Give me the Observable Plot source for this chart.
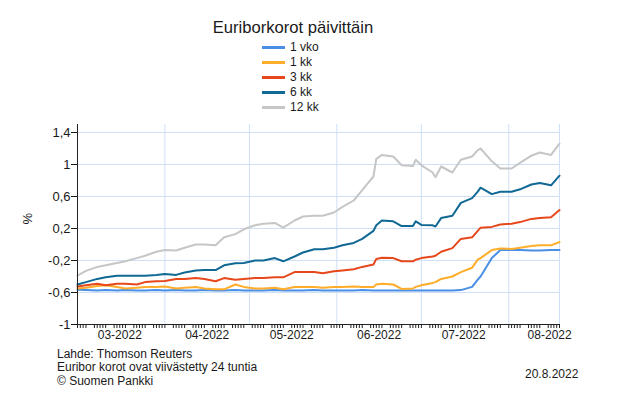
<!DOCTYPE html>
<html>
<head>
<meta charset="utf-8">
<script src="https://cdn.jsdelivr.net/npm/d3@7"></script>
<script src="https://cdn.jsdelivr.net/npm/@observablehq/plot@0.6"></script>
<style>
  body { margin: 0; background: #fff; font-family: "Liberation Sans", Arial, sans-serif; color: #1a1a1a; }
  #wrap { position: relative; width: 639px; height: 406px; overflow: hidden; }
  #chart { position: absolute; left: 0; top: 0; }
  .title { position: absolute; left: 0; width: 586px; top: 18px; text-align: center; font-size: 16.6px; }
  .leg { position: absolute; left: 262px; font-size: 12px; line-height: 14px; }
  .leg span.sw { position: absolute; left: 0; top: 6px; width: 23px; height: 3px; }
  .leg span.tx { position: absolute; left: 28px; top: 0; white-space: nowrap; }
  .foot { position: absolute; left: 57px; top: 348px; font-size: 12px; line-height: 13.3px; }
  .date { position: absolute; left: 525px; top: 367px; font-size: 12px; }
</style>
</head>
<body>
<div id="wrap"></div>
<script>
const seriesNames = ["1 vko", "1 kk", "3 kk", "6 kk", "12 kk"];
const seriesColors = ["#4a8fe6", "#ffad2a", "#e6481c", "#106894", "#c6c6c6"];

const dates = ["2022-03-01","2022-03-04","2022-03-08","2022-03-11","2022-03-15","2022-03-18","2022-03-22","2022-03-25","2022-03-29","2022-04-01",
  "2022-04-05","2022-04-08","2022-04-12","2022-04-15","2022-04-19","2022-04-22","2022-04-26","2022-04-29","2022-05-03","2022-05-06",
  "2022-05-10","2022-05-13","2022-05-17","2022-05-20","2022-05-24","2022-05-27","2022-05-31","2022-06-03","2022-06-07","2022-06-10",
  "2022-06-14","2022-06-15","2022-06-17","2022-06-21","2022-06-24","2022-06-28","2022-06-29","2022-07-01","2022-07-05","2022-07-06",
  "2022-07-08","2022-07-12","2022-07-15","2022-07-19","2022-07-21","2022-07-22","2022-07-26","2022-07-29","2022-08-02","2022-08-05",
  "2022-08-09","2022-08-12","2022-08-16","2022-08-19"];

const vko1 = [-0.565,-0.57,-0.575,-0.57,-0.575,-0.57,-0.575,-0.575,-0.57,-0.575,
  -0.57,-0.575,-0.575,-0.57,-0.575,-0.575,-0.57,-0.575,-0.575,-0.575,
  -0.57,-0.575,-0.575,-0.575,-0.57,-0.575,-0.575,-0.575,-0.575,-0.57,
  -0.575,-0.575,-0.575,-0.575,-0.575,-0.575,-0.575,-0.575,-0.575,-0.575,
  -0.575,-0.575,-0.57,-0.53,-0.44,-0.40,-0.17,-0.07,-0.07,-0.07,
  -0.075,-0.075,-0.07,-0.07];
const kk1 = [-0.55,-0.54,-0.52,-0.51,-0.53,-0.55,-0.54,-0.53,-0.53,-0.525,
  -0.55,-0.54,-0.53,-0.55,-0.56,-0.56,-0.50,-0.53,-0.55,-0.55,
  -0.54,-0.56,-0.53,-0.53,-0.53,-0.54,-0.53,-0.53,-0.525,-0.53,
  -0.53,-0.50,-0.49,-0.50,-0.555,-0.55,-0.53,-0.51,-0.48,-0.47,
  -0.43,-0.40,-0.345,-0.29,-0.19,-0.17,-0.07,-0.05,-0.055,-0.04,
  -0.02,-0.01,-0.01,0.03];
const kk3 = [-0.525,-0.51,-0.49,-0.51,-0.49,-0.49,-0.50,-0.47,-0.46,-0.455,
  -0.43,-0.43,-0.42,-0.43,-0.46,-0.42,-0.44,-0.43,-0.42,-0.42,
  -0.41,-0.41,-0.345,-0.345,-0.345,-0.36,-0.335,-0.325,-0.31,-0.28,
  -0.25,-0.18,-0.165,-0.17,-0.21,-0.21,-0.19,-0.17,-0.15,-0.14,
  -0.09,-0.045,0.07,0.09,0.17,0.21,0.22,0.25,0.26,0.28,
  0.32,0.33,0.34,0.43];
const kk6 = [-0.50,-0.47,-0.43,-0.41,-0.39,-0.39,-0.39,-0.39,-0.38,-0.37,
  -0.38,-0.35,-0.325,-0.32,-0.32,-0.26,-0.235,-0.23,-0.20,-0.20,
  -0.17,-0.21,-0.15,-0.10,-0.06,-0.06,-0.04,-0.01,0.02,0.07,
  0.17,0.24,0.30,0.29,0.23,0.23,0.29,0.245,0.24,0.225,
  0.33,0.36,0.52,0.58,0.66,0.71,0.63,0.66,0.66,0.69,
  0.75,0.77,0.74,0.86];
const kk12 = [-0.39,-0.33,-0.28,-0.26,-0.23,-0.21,-0.17,-0.14,-0.09,-0.07,
  -0.075,-0.04,0.0,0.0,-0.01,0.09,0.13,0.19,0.24,0.26,
  0.27,0.21,0.30,0.35,0.36,0.36,0.40,0.47,0.55,0.68,
  0.85,1.07,1.12,1.10,0.99,0.98,1.06,0.99,0.90,0.84,
  0.975,0.90,1.06,1.10,1.18,1.20,1.04,0.95,0.95,1.02,
  1.11,1.15,1.12,1.26];

const yTicks = [-1, -0.6, -0.2, 0.2, 0.6, 1, 1.4];
const monthLabelDates = ["2022-03-16","2022-04-16","2022-05-16","2022-06-16","2022-07-16","2022-08-15T12:00"];
const monthGridDates = ["2022-04-01","2022-05-01","2022-06-01","2022-07-01","2022-08-01","2022-08-19"];
const xStart = "2022-03-01", xEnd = "2022-08-19";
const titleText = "Euriborkorot päivittäin";
const yLabel = "%";
const footLines = ["Lahde:  Thomson Reuters", "Euribor korot ovat viivästetty 24 tuntia", "© Suomen Pankki"];
const dateText = "20.8.2022";

const allSeries = [vko1, kk1, kk3, kk6, kk12];
const rows = [];
allSeries.forEach((vals, i) => vals.forEach((v, j) => rows.push({series: seriesNames[i], date: new Date(dates[j]), value: v})));

const xs = new Date(xStart), xe = new Date(xEnd);
const weekdays = d3.utcDay.range(xs, d3.utcDay.offset(xe, 1)).filter(d => d.getUTCDay() !== 0 && d.getUTCDay() !== 6);
const fmtY = d => String(d).replace(".", ",");

const chart = Plot.plot({
  width: 639, height: 406,
  marginLeft: 77, marginRight: 80, marginTop: 124, marginBottom: 82,
  style: {fontFamily: "'Liberation Sans', Arial, sans-serif", fontSize: "12px", color: "#1a1a1a", background: "transparent"},
  x: {type: "utc", domain: [xs, xe]},
  y: {domain: [-1, 1.5]},
  color: {domain: seriesNames, range: seriesColors},
  marks: [
    Plot.ruleY(yTicks.filter(t => t > -1), {stroke: "#cfe0f6", strokeWidth: 1}),
    Plot.ruleX(monthGridDates.map(d => new Date(d)), {stroke: "#cfe0f6", strokeWidth: 1}),
    Plot.line(rows, {x: "date", y: "value", z: "series", stroke: "series", strokeWidth: 2, strokeLinejoin: "round"}),
    Plot.ruleX(weekdays, {x: d => d, y1: -1, y2: -1.05, stroke: "#222", strokeWidth: 1}),
    Plot.ruleX([xs], {stroke: "#222", strokeWidth: 1}),
    Plot.ruleY([-1], {stroke: "#222", strokeWidth: 1}),
    Plot.axisY({ticks: yTicks, tickSize: 6, tickPadding: 1, tickFormat: fmtY, label: null, fontSize: 13}),
    Plot.axisX({ticks: monthLabelDates.map(d => new Date(d)), tickSize: 0, tickPadding: 6, tickFormat: d3.utcFormat("%m-%Y"), label: null, fontSize: 12}),
    Plot.text([yLabel], {frameAnchor: "left", dx: -50, rotate: -90, fontSize: 13})
  ]
});
chart.id = "chart";
const wrap = document.getElementById("wrap");
wrap.appendChild(chart);

const t = document.createElement("div");
t.className = "title"; t.textContent = titleText; wrap.appendChild(t);

const legTops = [40, 55, 70, 85, 100];
seriesNames.forEach((n, i) => {
  const d = document.createElement("div");
  d.className = "leg"; d.style.top = legTops[i] + "px";
  d.innerHTML = `<span class="sw" style="background:${seriesColors[i]}"></span><span class="tx"></span>`;
  d.querySelector(".tx").textContent = n;
  wrap.appendChild(d);
});

const f = document.createElement("div");
f.className = "foot"; f.innerHTML = footLines.map(s => s.replace(/&/g,"&amp;")).join("<br>");
wrap.appendChild(f);
const dt = document.createElement("div");
dt.className = "date"; dt.textContent = dateText; wrap.appendChild(dt);
</script>
</body>
</html>
